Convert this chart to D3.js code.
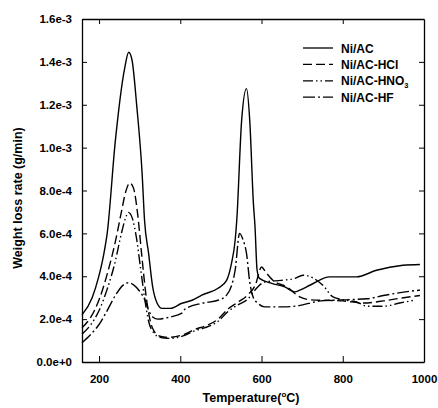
<!DOCTYPE html>
<html>
<head>
<meta charset="utf-8">
<script src="https://cdn.jsdelivr.net/npm/d3@7"></script>
<style>
  body { margin: 0; background: #fff; }
  text { font-family: Arial, "Liberation Sans", sans-serif; font-weight: bold; }
</style>
</head>
<body>
<script>
// series values in units of 1e-4 g/min
const tempNiAC  = [158, 183, 199, 212, 220, 240, 263, 273, 281, 293, 306, 312, 322, 332, 343, 355, 375, 404, 429, 453, 493, 514, 526, 535, 539, 551, 563, 571, 580, 584, 589, 595, 625, 657, 682, 694, 719, 768, 834, 883, 948, 990];
const rateNiAC  = [2.2, 3.0, 3.97, 5.07, 6.0, 10.3, 13.7, 14.45, 14.1, 11.9, 8.8, 6.6, 5.07, 3.5, 2.74, 2.5, 2.5, 2.74, 2.88, 3.12, 3.44, 3.81, 4.6, 5.67, 6.6, 11.26, 12.75, 11.26, 7.4, 6.3, 4.3, 3.9, 3.67, 3.5, 3.27, 3.35, 3.58, 3.97, 3.97, 4.28, 4.51, 4.55];

const tempHCl   = [158, 180, 200, 220, 240, 255, 265, 276, 285, 295, 305, 315, 325, 335, 350, 370, 411, 436, 461, 493, 518, 543, 567, 585, 600, 610, 628, 662, 694, 720, 800, 850, 900, 950, 990];
const rateHCl   = [1.6, 2.1, 2.9, 4.1, 5.6, 7.0, 7.9, 8.35, 8.1, 6.9, 5.0, 3.2, 2.0, 1.45, 1.2, 1.15, 1.3, 1.52, 1.68, 2.0, 2.48, 2.8, 3.15, 3.6, 4.43, 4.2, 3.81, 3.5, 3.04, 2.9, 2.85, 2.75, 2.85, 3.0, 3.1];

const tempHNO3  = [158, 180, 200, 220, 240, 255, 265, 272, 282, 292, 302, 312, 322, 335, 350, 370, 411, 436, 461, 493, 518, 543, 567, 580, 608, 649, 682, 702, 751, 776, 809, 834, 860, 900, 940, 975];
const rateHNO3  = [1.3, 1.75, 2.4, 3.4, 4.7, 6.0, 6.7, 6.98, 6.7, 5.8, 4.4, 3.0, 1.9, 1.35, 1.15, 1.1, 1.24, 1.46, 1.6, 1.9, 2.36, 2.68, 2.95, 3.27, 3.73, 3.81, 3.9, 4.05, 3.58, 3.04, 2.88, 2.8, 2.6, 2.6, 2.75, 2.88];

const tempHF    = [158, 180, 200, 220, 240, 260, 272, 285, 300, 313, 322, 332, 345, 375, 404, 411, 453, 493, 514, 535, 546, 555, 563, 571, 579, 591, 608, 650, 690, 745, 800, 860, 900, 965, 990];
const rateHF    = [0.9, 1.3, 1.75, 2.4, 3.1, 3.6, 3.7, 3.6, 3.3, 2.88, 2.42, 2.1, 2.0, 2.1, 2.28, 2.46, 2.74, 2.88, 3.12, 4.28, 6.0, 5.67, 5.07, 3.73, 3.04, 2.74, 2.57, 2.57, 2.62, 2.85, 2.9, 2.95, 3.1, 3.3, 3.35];

const seriesNames = ["Ni/AC", "Ni/AC-HCl", "Ni/AC-HNO3", "Ni/AC-HF"];
const xTicks = [200, 400, 600, 800, 1000];
const yTicks = [0, 2, 4, 6, 8, 10, 12, 14, 16];

const width = 438, height = 408;
const margin = {left: 82, top: 19, right: 14, bottom: 46};

const series = [
    {name: seriesNames[0], t: tempNiAC, v: rateNiAC, dash: null},
    {name: seriesNames[1], t: tempHCl, v: rateHCl, dash: "9,4"},
    {name: seriesNames[2], t: tempHNO3, v: rateHNO3, dash: "10,3,1.5,3,1.5,3"},
    {name: seriesNames[3], t: tempHF, v: rateHF, dash: "12,3,2,3"}
];

const svg = d3.select("body").append("svg")
    .attr("width", width)
    .attr("height", height);

const x = d3.scaleLinear().domain([158, 1000]).range([margin.left, width - margin.right]);
const y = d3.scaleLinear().domain([0, 16]).range([height - margin.bottom, margin.top]);

const fmt = d => d3.format(".1e")(d * 1e-4);

// bottom axis, ticks inward
svg.append("g")
    .attr("transform", `translate(0,${y(0)})`)
    .call(d3.axisBottom(x).tickValues(xTicks).tickFormat(d3.format("d")).tickSizeInner(-6).tickSizeOuter(0).tickPadding(13))
    .call(g => g.select(".domain").attr("stroke-width", 1.3))
    .call(g => g.selectAll("text").attr("font-size", 11.5).attr("fill", "#000"));

// top axis mirror
svg.append("g")
    .attr("transform", `translate(0,${y(16)})`)
    .call(d3.axisTop(x).tickValues(xTicks.slice(0, 4)).tickSizeInner(-5).tickSizeOuter(0).tickFormat(""))
    .call(g => g.select(".domain").attr("stroke-width", 1.3));

// left axis
svg.append("g")
    .attr("transform", `translate(${x.range()[0]},0)`)
    .call(d3.axisLeft(y).tickValues(yTicks).tickFormat(fmt).tickSizeInner(-5).tickSizeOuter(0).tickPadding(10))
    .call(g => g.select(".domain").attr("stroke-width", 1.3))
    .call(g => g.selectAll("text").attr("font-size", 11.5).attr("fill", "#000"));

// right axis mirror
svg.append("g")
    .attr("transform", `translate(${x.range()[1]},0)`)
    .call(d3.axisRight(y).tickValues(yTicks.slice(1, 8)).tickSizeInner(-5).tickSizeOuter(0).tickFormat(""))
    .call(g => g.select(".domain").attr("stroke-width", 1.3));

const line = d3.line()
    .x(d => x(d[0]))
    .y(d => y(d[1]))
    .curve(d3.curveMonotoneX);

svg.selectAll(".series")
    .data(series)
    .enter().append("path")
    .attr("class", "series")
    .attr("fill", "none")
    .attr("stroke", "#000")
    .attr("stroke-width", 1.4)
    .attr("stroke-dasharray", d => d.dash)
    .attr("d", d => line(d.t.map((t, i) => [t, d.v[i]])));

// legend
const legend = svg.append("g").attr("transform", "translate(303,48)");
series.forEach((s, i) => {
    const row = legend.append("g").attr("transform", `translate(0,${i * 16.4})`);
    row.append("line")
        .attr("x1", 0).attr("x2", 30)
        .attr("stroke", "#000").attr("stroke-width", 1.3)
        .attr("stroke-dasharray", s.dash);
    const txt = row.append("text").attr("x", 38).attr("y", 4.5).attr("font-size", 12);
    if (s.name.endsWith("3")) {
        txt.text(s.name.slice(0, -1));
        txt.append("tspan").attr("font-size", 7.5).attr("dy", 3).text("3");
    } else {
        txt.text(s.name);
    }
});

// axis titles
const xt = svg.append("text")
    .attr("x", 251)
    .attr("y", 402)
    .attr("text-anchor", "middle")
    .attr("font-size", 12.5)
    .text("Temperature(");
xt.append("tspan").attr("font-size", 8).attr("dy", -5).text("o");
xt.append("tspan").attr("dy", 5).text("C)");

svg.append("text")
    .attr("transform", `translate(22,198) rotate(-90)`)
    .attr("text-anchor", "middle")
    .attr("font-size", 12.5)
    .text("Weight loss rate (g/min)");
</script>
</body>
</html>
